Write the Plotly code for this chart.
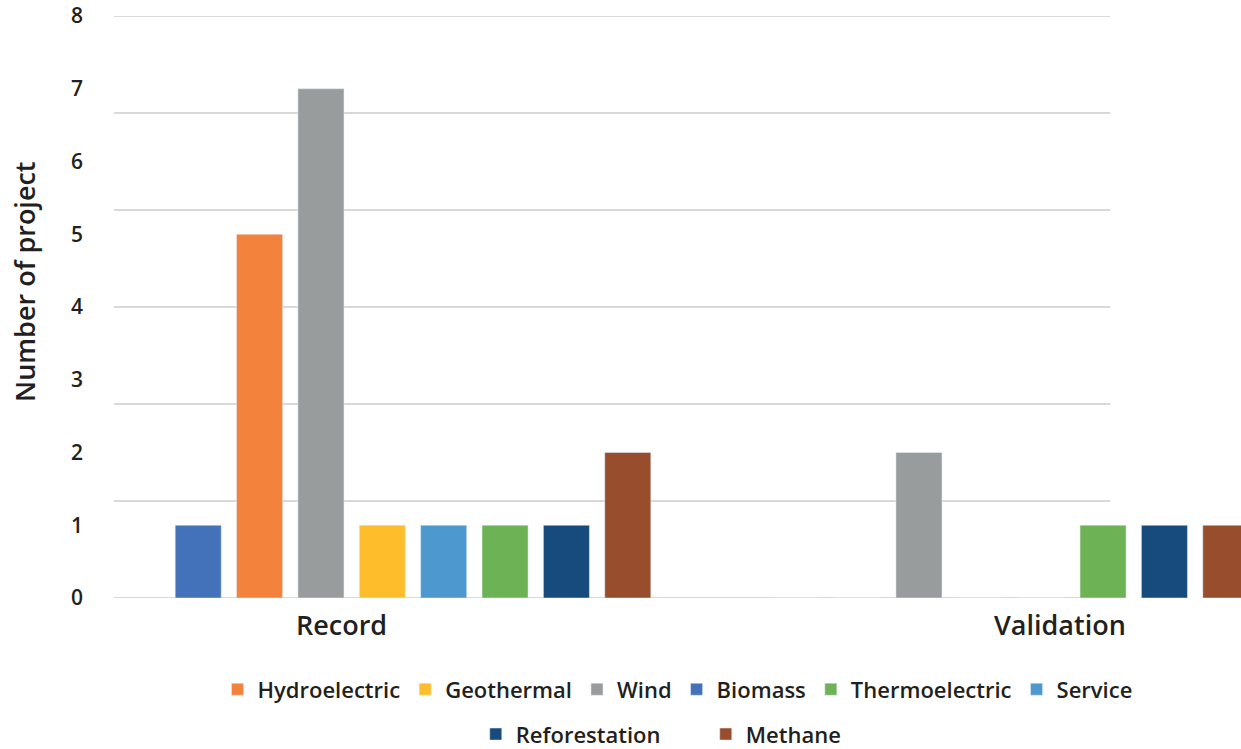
import plotly.graph_objects as go

categories = ["Record", "Validation"]
series_names = ["Biomass", "Hydroelectric", "Wind", "Geothermal", "Service",
                "Thermoelectric", "Reforestation", "Methane"]
biomass = [1, 0]
hydroelectric = [5, 0]
wind = [7, 2]
geothermal = [1, 0]
service = [1, 0]
thermoelectric = [1, 1]
reforestation = [1, 1]
methane = [2, 1]
y_ticks = [0, 1, 2, 3, 4, 5, 6, 7, 8]

series_values = [biomass, hydroelectric, wind, geothermal, service,
                 thermoelectric, reforestation, methane]
colors = ["#4472BA", "#F3823D", "#999C9C", "#FEBE2C", "#4E98D0",
          "#6EB256", "#174B7E", "#984D2C"]
legend_rank = {"Hydroelectric": 1, "Geothermal": 2, "Wind": 3, "Biomass": 4,
               "Thermoelectric": 5, "Service": 6, "Reforestation": 7, "Methane": 8}
second_row = {"Reforestation", "Methane"}

TXT = "#231F20"
FONT = "Open Sans"

fig = go.Figure()
for name, vals, col in zip(series_names, series_values, colors):
    fig.add_trace(go.Bar(
        x=categories, y=vals, name=name, marker_color=col,
        legendrank=legend_rank[name],
        legend="legend2" if name in second_row else "legend",
    ))

# uniform horizontal gridlines
n_grid = 6
for k in range(n_grid + 1):
    yv = k * max(y_ticks) / n_grid
    fig.add_shape(type="line", xref="paper", yref="y", x0=0, x1=0.884,
                  y0=yv, y1=yv, line=dict(color="#D9D9D9", width=2), layer="below")

annotations = [
    dict(text="Number of project", xref="paper", yref="paper", x=-0.079, y=0.543,
         xanchor="center", yanchor="middle", textangle=-90, showarrow=False,
         font=dict(family=FONT, size=27, color=TXT, weight=600)),
]
for cat, xpos in zip(categories, [-0.12, 1.082]):
    annotations.append(dict(text=cat, xref="x", yref="paper", x=xpos, y=-0.046,
                            xanchor="center", yanchor="middle", showarrow=False,
                            font=dict(family=FONT, size=27, color=TXT, weight=600)))

fig.update_layout(
    width=1241, height=749,
    margin=dict(l=114, r=0, t=16, b=151, autoexpand=False),
    paper_bgcolor="white", plot_bgcolor="white",
    barmode="group", bargap=0.179, bargroupgap=0.25,
    font=dict(family=FONT, color=TXT),
    xaxis=dict(range=[-0.5, 1.3846], showticklabels=False, showgrid=False,
               zeroline=False, showline=False, ticks=""),
    yaxis=dict(range=[0, 8], tickvals=y_ticks, ticktext=[str(v) for v in y_ticks],
               showgrid=False, zeroline=False, showline=False,
               ticklabelstandoff=30,
               tickfont=dict(family=FONT, size=21, color=TXT, weight=600)),
    annotations=annotations,
    legend=dict(orientation="h", x=0.5, xanchor="center", y=-0.121, yanchor="top",
                font=dict(family=FONT, size=22, color=TXT, weight=600),
                itemwidth=30, traceorder="normal"),
    legend2=dict(orientation="h", x=0.321, xanchor="left", y=-0.198, yanchor="top",
                 font=dict(family=FONT, size=22, color=TXT, weight=600),
                 itemwidth=30, entrywidth=185, traceorder="normal"),
)

fig.write_html("out.html")
